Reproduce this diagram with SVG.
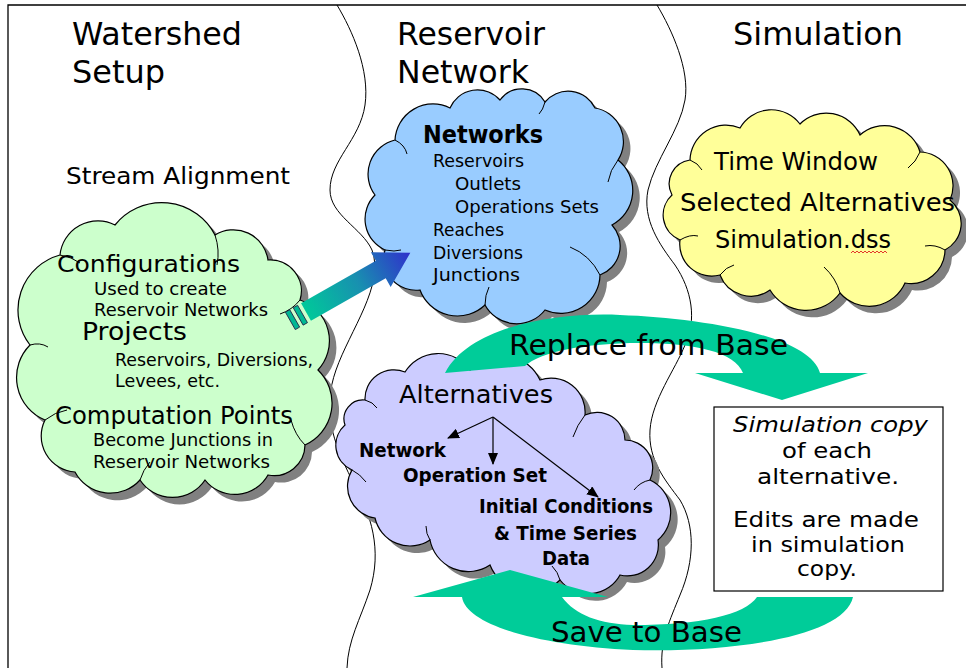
<svg xmlns="http://www.w3.org/2000/svg" xmlns:xlink="http://www.w3.org/1999/xlink" width="966" height="668" viewBox="0 0 966 668">
<style>
.title{font-family:"DejaVu Sans",sans-serif;font-size:32px;fill:#000}
.c{font-family:"DejaVu Sans",sans-serif;fill:#000}
.h{font-size:24px}
.s{font-size:17px}
.m{font-size:19px;font-weight:bold}
.b{font-size:22px}
.big{font-size:28px}
.wave{fill:none;stroke:#000;stroke-width:1}
.shadow{fill:#808080}
.cl{stroke:#000;stroke-width:1.2}
.deco{fill:none;stroke:#000;stroke-width:1}
.teal{fill:#00CC99}
</style>
<defs>
<path id="cloudGreen" d="M60,255 A38,38 0 0 1 115,225 A60,60 0 0 1 215,235 A35,35 0 0 1 268,260 A31,31 0 0 1 300,300 A43,43 0 0 1 318,370 A46,46 0 0 1 305,445 A31,31 0 0 1 268,475 A38,38 0 0 1 205,480 A39,39 0 0 1 140,480 A40,40 0 0 1 75,472 A36,36 0 0 1 45,420 A46,46 0 0 1 30,345 A57,57 0 0 1 60,255 Z"/>
<path id="cloudBlue" d="M395,140 A38,38 0 0 1 450,108 A30,30 0 0 1 500,100 A27,27 0 0 1 545,102 A30,30 0 0 1 595,108 A34,34 0 0 1 618,160 A39,39 0 0 1 612,225 A31,31 0 0 1 600,275 A39,39 0 0 1 545,310 A36,36 0 0 1 485,305 A40,40 0 0 1 420,290 A32,32 0 0 1 385,250 A34,34 0 0 1 375,195 A35,35 0 0 1 395,140 Z"/>
<path id="cloudYellow" d="M690,160 A36,36 0 0 1 740,128 A36,36 0 0 1 800,124 A37,37 0 0 1 860,135 A37,37 0 0 1 920,152 A34,34 0 0 1 950,200 A30,30 0 0 1 945,250 A34,34 0 0 1 905,283 A39,39 0 0 1 840,293 A42,42 0 0 1 770,290 A33,33 0 0 1 720,275 A32,32 0 0 1 680,240 A27,27 0 0 1 672,195 A24,24 0 0 1 690,160 Z"/>
<path id="cloudPurple" d="M365,400 A29,29 0 0 1 405,372 A39,39 0 0 1 470,370 A42,42 0 0 1 540,380 A34,34 0 0 1 585,415 A28,28 0 0 1 625,440 A28,28 0 0 1 650,480 A36,36 0 0 1 658,540 A31,31 0 0 1 620,575 A36,36 0 0 1 560,580 A43,43 0 0 1 490,565 A39,39 0 0 1 430,540 A36,36 0 0 1 375,518 A32,32 0 0 1 352,470 A27,27 0 0 1 345,425 A19,19 0 0 1 365,400 Z"/>
<linearGradient id="grad" x1="0" y1="0" x2="1" y2="0">
<stop offset="0" stop-color="#00C89A"/>
<stop offset="0.5" stop-color="#1890B0"/>
<stop offset="1" stop-color="#3030CC"/>
</linearGradient>
<marker id="ah" markerUnits="userSpaceOnUse" markerWidth="12" markerHeight="10" refX="11" refY="5" orient="auto">
<path d="M0,0 L12,5 L0,10 Z" fill="#000"/>
</marker>
</defs>

<!-- frame -->
<path d="M8,668 L8,5 L966,5" fill="none" stroke="#000" stroke-width="1.3"/>

<!-- column titles -->
<g id="titles">
<text class="title" x="72" y="45" textLength="170" lengthAdjust="spacingAndGlyphs">Watershed</text>
<text class="title" x="72" y="83" textLength="93" lengthAdjust="spacingAndGlyphs">Setup</text>
<text class="title" x="397" y="45" textLength="148" lengthAdjust="spacingAndGlyphs">Reservoir</text>
<text class="title" x="397" y="83" textLength="132" lengthAdjust="spacingAndGlyphs">Network</text>
<text class="title" x="733" y="45" textLength="170" lengthAdjust="spacingAndGlyphs">Simulation</text>
</g>

<!-- dividers -->
<g id="dividers">
<path class="wave" d="M337,5 C352,30 370,70 365,105 C360,140 330,160 330,190 C330,215 362,228 372,250 C385,285 350,330 336,370 C322,410 332,440 352,480 C372,515 382,550 370,590 C360,620 348,640 347,668"/>
<path class="wave" d="M657,5 C672,30 690,70 685,100 C680,130 655,160 648,190 C642,220 660,245 675,265 C692,290 697,320 685,345 C675,370 652,400 650,430 C648,460 665,480 680,500 C695,525 695,560 680,595 C670,620 660,640 662,668"/>
</g>

<text class="c" x="66" y="184" font-size="23" textLength="224" lengthAdjust="spacingAndGlyphs">Stream Alignment</text>

<!-- Watershed cloud -->
<g id="watershed-cloud">
<use xlink:href="#cloudGreen" class="shadow" transform="translate(7,7)"/>
<use xlink:href="#cloudGreen" class="cl" fill="#CCFFCC"/>
<path class="deco" d="M60,255 q12,2 20,8 M215,235 q5,15 2,30 M300,300 q-8,10 -20,14 M305,445 q-10,-10 -14,-25 M140,480 q3,-10 10,-18 M45,420 q10,-8 22,-10 M30,345 q10,-3 18,2"/>
<text class="c" x="57" y="272" font-size="23" textLength="183" lengthAdjust="spacingAndGlyphs">Configurations</text>
<text class="c s" x="94" y="295" textLength="133" lengthAdjust="spacingAndGlyphs">Used to create</text>
<text class="c s" x="94" y="316" textLength="174" lengthAdjust="spacingAndGlyphs">Reservoir Networks</text>
<text class="c h" x="82" y="340" textLength="105" lengthAdjust="spacingAndGlyphs">Projects</text>
<text class="c s" x="115" y="366" textLength="198" lengthAdjust="spacingAndGlyphs">Reservoirs, Diversions,</text>
<text class="c s" x="115" y="387" textLength="105" lengthAdjust="spacingAndGlyphs">Levees, etc.</text>
<text class="c h" x="55" y="424" textLength="238" lengthAdjust="spacingAndGlyphs">Computation Points</text>
<text class="c s" x="93" y="446" textLength="180" lengthAdjust="spacingAndGlyphs">Become Junctions in</text>
<text class="c s" x="93" y="468" textLength="177" lengthAdjust="spacingAndGlyphs">Reservoir Networks</text>
</g>

<!-- Networks cloud -->
<g id="networks-cloud">
<use xlink:href="#cloudBlue" class="shadow" transform="translate(7,7)"/>
<use xlink:href="#cloudBlue" class="cl" fill="#99CCFF"/>
<path class="deco" d="M395,140 q10,5 12,14 M618,160 q-8,10 -10,22 M600,275 q-10,-20 -30,-28 M485,305 q0,-10 4,-18 M385,250 q10,2 16,0 M545,102 q-2,8 -6,12"/>
<text class="c h" x="423" y="143" font-weight="bold" textLength="120" lengthAdjust="spacingAndGlyphs">Networks</text>
<text class="c s" x="433" y="167" textLength="91" lengthAdjust="spacingAndGlyphs">Reservoirs</text>
<text class="c s" x="455" y="190" textLength="66" lengthAdjust="spacingAndGlyphs">Outlets</text>
<text class="c s" x="455" y="213" textLength="144" lengthAdjust="spacingAndGlyphs">Operations Sets</text>
<text class="c s" x="433" y="236" textLength="71" lengthAdjust="spacingAndGlyphs">Reaches</text>
<text class="c s" x="433" y="259" textLength="90" lengthAdjust="spacingAndGlyphs">Diversions</text>
<text class="c s" x="433" y="281" textLength="87" lengthAdjust="spacingAndGlyphs">Junctions</text>
</g>

<!-- Simulation cloud -->
<g id="simulation-cloud">
<use xlink:href="#cloudYellow" class="shadow" transform="translate(7,7)"/>
<use xlink:href="#cloudYellow" class="cl" fill="#FFFF99"/>
<path class="deco" d="M690,160 q8,3 12,10 M920,152 q-4,10 -12,16 M945,250 q-10,-6 -20,-4 M840,293 q-4,-15 -16,-26 M720,275 q6,-8 14,-10 M680,240 q10,-6 18,-4"/>
<text class="c h" x="714" y="170" textLength="164" lengthAdjust="spacingAndGlyphs">Time Window</text>
<text class="c h" x="680" y="211" textLength="275" lengthAdjust="spacingAndGlyphs">Selected Alternatives</text>
<text class="c h" x="715" y="248" textLength="176" lengthAdjust="spacingAndGlyphs">Simulation.dss</text>
<path d="M851,253 l2,-2 l2,2 l2,-2 l2,2 l2,-2 l2,2 l2,-2 l2,2 l2,-2 l2,2 l2,-2 l2,2 l2,-2 l2,2 l2,-2 l2,2 l2,-2 l2,2" fill="none" stroke="#E02020" stroke-width="0.9"/>
</g>

<!-- Alternatives cloud -->
<g id="alternatives-cloud">
<use xlink:href="#cloudPurple" class="shadow" transform="translate(7,7)"/>
<use xlink:href="#cloudPurple" class="cl" fill="#CCCCFF"/>
<path class="deco" d="M365,400 q8,2 12,8 M585,415 q-8,10 -12,22 M650,480 q-10,2 -16,10 M560,580 q-2,-8 -8,-14 M430,540 q-4,-6 -4,-14 M352,470 q8,4 14,12"/>
<text class="c h" x="399" y="403" textLength="154" lengthAdjust="spacingAndGlyphs">Alternatives</text>
<text class="c m" x="359" y="457" textLength="87" lengthAdjust="spacingAndGlyphs">Network</text>
<text class="c m" x="403" y="482" textLength="144" lengthAdjust="spacingAndGlyphs">Operation Set</text>
<text class="c m" x="479" y="513" textLength="174" lengthAdjust="spacingAndGlyphs">Initial Conditions</text>
<text class="c m" x="494" y="540" textLength="143" lengthAdjust="spacingAndGlyphs">&amp; Time Series</text>
<text class="c m" x="542" y="565" textLength="48" lengthAdjust="spacingAndGlyphs">Data</text>
</g>

<!-- connectors -->
<g id="connectors">
<g fill="none" stroke="#000" stroke-width="1.2">
<line x1="493" y1="417" x2="448" y2="438" marker-end="url(#ah)"/>
<line x1="493" y1="417" x2="493" y2="464" marker-end="url(#ah)"/>
<line x1="493" y1="417" x2="598" y2="497" marker-end="url(#ah)"/>
</g>
<path class="teal" d="M445,373 C470,325 560,312 620,315 C700,318 810,335 820,373 L868,373 L782,400 L695,373 L743,373 C735,352 695,343 640,343 C585,343 540,352 525,366 Z"/>
<path class="teal" d="M462,597 C466,625 540,646 633,650 C740,653 845,635 853,597 L757,597 C745,615 700,625 633,625 C600,624 575,615 562,597 L608,597 L510,570 L413,597 Z"/>
<g transform="translate(306,312) rotate(-29.6)">
<path d="M0,-10 L86,-10 L86,-20 L120,0 L86,20 L86,10 L0,10 Z" fill="url(#grad)"/>
<rect x="-9" y="-10" width="5" height="20" fill="#00B894" stroke="#224" stroke-width="0.8"/>
<rect x="-18" y="-10" width="5" height="20" fill="#00B894" stroke="#224" stroke-width="0.8"/>
</g>
</g>
<text class="c big" x="509" y="355" textLength="279" lengthAdjust="spacingAndGlyphs">Replace from Base</text>
<text class="c big" x="551" y="642" textLength="191" lengthAdjust="spacingAndGlyphs">Save to Base</text>

<!-- Simulation copy box -->
<g id="sim-copy-box">
<rect x="714" y="407" width="229" height="184" fill="#fff" stroke="#000" stroke-width="1.2"/>
<text class="c b" x="733" y="432" font-style="italic" textLength="195" lengthAdjust="spacingAndGlyphs">Simulation copy</text>
<text class="c b" x="782" y="458" textLength="90" lengthAdjust="spacingAndGlyphs">of each</text>
<text class="c b" x="757" y="484" textLength="142" lengthAdjust="spacingAndGlyphs">alternative.</text>
<text class="c b" x="733" y="527" textLength="186" lengthAdjust="spacingAndGlyphs">Edits are made</text>
<text class="c b" x="751" y="552" textLength="154" lengthAdjust="spacingAndGlyphs">in simulation</text>
<text class="c b" x="797" y="576" textLength="60" lengthAdjust="spacingAndGlyphs">copy.</text>
</g>
</svg>
